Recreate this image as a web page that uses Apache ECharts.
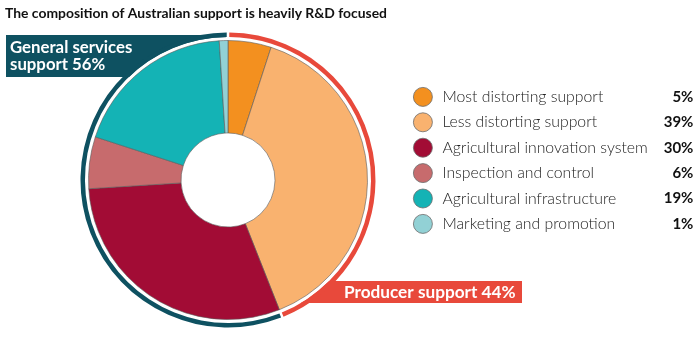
<!DOCTYPE html>
<html>
<head>
<meta charset="utf-8">
<script src="https://cdn.jsdelivr.net/npm/echarts@6/dist/echarts.min.js"></script>
<style>
  html, body { margin: 0; padding: 0; background: #ffffff; }
  #chart { width: 700px; height: 337px; }
</style>
</head>
<body>
<div id="chart"></div>
<script>
// Support categories (clockwise from 12 o'clock) and their shares, %
const categories = [
  'Most distorting support',
  'Less distorting support',
  'Agricultural innovation system',
  'Inspection and control',
  'Agricultural infrastructure',
  'Marketing and promotion'
];
const shares = [5, 39, 30, 6, 19, 1];
const sliceColors = ['#f3901f', '#f9b26f', '#a20c35', '#c76b6d', '#14b3b5', '#92d1d5'];

// Outer grouping ring: producer support vs general services support, %
const groups = ['Producer support', 'General services support'];
const groupShares = [44, 56];
const groupColors = ['#e8493b', '#0e5161'];

const titleText = 'The composition of Australian support is heavily R&D focused';
const FONT = 'Lato, "Open Sans", sans-serif';

const chart = echarts.init(document.getElementById('chart'), null, { renderer: 'canvas' });

const shareByName = {};
categories.forEach((c, i) => { shareByName[c] = shares[i]; });

const center = [228, 180];

chart.setOption({
  animation: false,
  backgroundColor: '#ffffff',
  title: {
    text: titleText,
    left: 0,
    top: 2,
    textStyle: { fontFamily: FONT, fontWeight: 'bold', fontSize: 13.9, color: '#111' }
  },
  legend: {
    orient: 'vertical',
    left: 413,
    top: 87,
    padding: 0,
    itemWidth: 19,
    itemHeight: 19,
    itemGap: 5.6,
    icon: 'circle',
    selectedMode: false,
    data: categories,
    itemStyle: { borderColor: '#6b6b6b', borderWidth: 0.8 },
    formatter: name => `{n|${name}}{v|${shareByName[name]}%}`,
    textStyle: {
      rich: {
        n: { fontFamily: FONT, fontSize: 15.8, fontWeight: 300, color: '#222', width: 211, padding: [0, 0, 0, 5], lineHeight: 19 },
        v: { fontFamily: FONT, fontSize: 15, fontWeight: 'bold', color: '#111', width: 40, align: 'right', lineHeight: 19 }
      }
    }
  },
  graphic: [
    // label banners behind the ring
    { type: 'rect', z: 0, shape: { x: 6, y: 35, width: 220, height: 42 }, style: { fill: groupColors[1] } },
    { type: 'rect', z: 0, shape: { x: 300, y: 281, width: 222, height: 22 }, style: { fill: groupColors[0] } },
    {
      type: 'text', z: 100, left: 10, top: 39,
      style: { text: 'General services\nsupport 56%', fill: '#ffffff', fontFamily: FONT, fontWeight: 'bold', fontSize: 16.8, lineHeight: 17 }
    },
    {
      type: 'text', z: 100, left: 344, top: 282,
      style: { text: 'Producer support 44%', fill: '#ffffff', fontFamily: FONT, fontWeight: 'bold', fontSize: 17.2, lineHeight: 20 }
    }
  ],
  series: [
    {
      // white backing disc separating ring and banners from the pie
      type: 'pie', z: 1, silent: true, center, radius: [0, 143],
      label: { show: false }, labelLine: { show: false },
      data: [{ value: 1, name: 'bg', itemStyle: { color: '#ffffff' } }]
    },
    {
      type: 'pie', z: 2, silent: true, center, radius: [143, 147.5],
      startAngle: 90, clockwise: true, padAngle: 1, sort: null,
      label: { show: false }, labelLine: { show: false },
      data: groups.map((g, i) => ({ name: g, value: groupShares[i], itemStyle: { color: groupColors[i] } }))
    },
    {
      type: 'pie', z: 3, center, radius: [47, 139.5],
      startAngle: 90, clockwise: true, sort: null,
      label: { show: false }, labelLine: { show: false },
      itemStyle: { borderColor: '#5a5a5a', borderWidth: 0.6 },
      data: categories.map((c, i) => ({ name: c, value: shares[i], itemStyle: { color: sliceColors[i] } }))
    }
  ]
});
</script>
</body>
</html>
